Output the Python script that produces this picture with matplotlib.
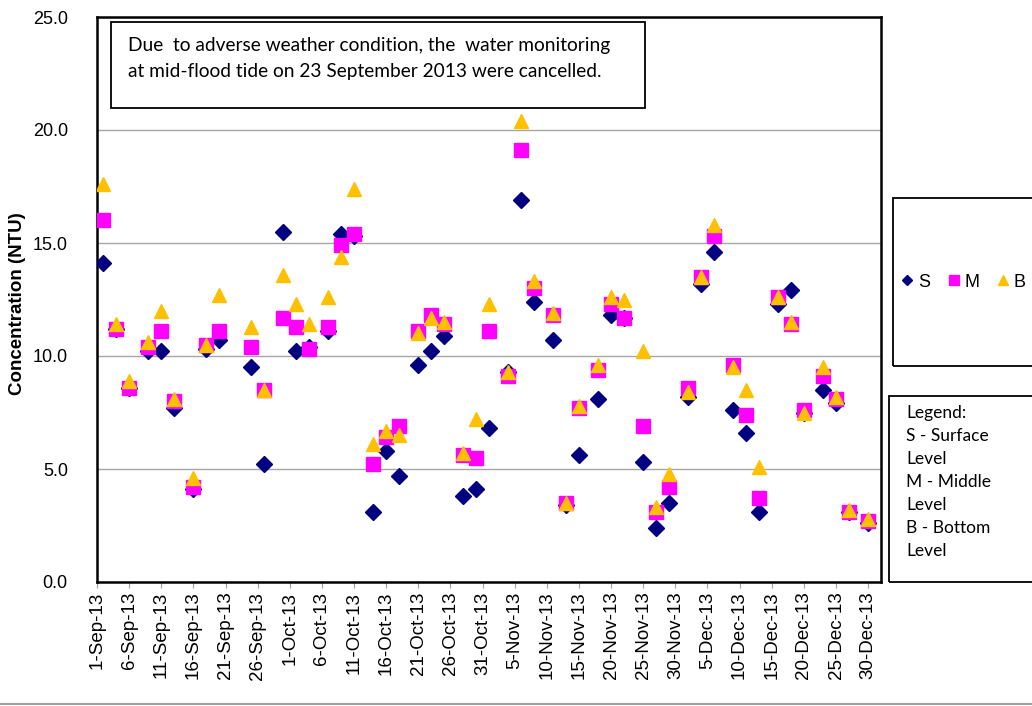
import datetime as dt

import matplotlib.pyplot as plt
from matplotlib.patches import Rectangle
from matplotlib.lines import Line2D

# sampling dates (23 Sep mid-flood cancelled)
dates = ["2013-09-02", "2013-09-04", "2013-09-06", "2013-09-09", "2013-09-11", "2013-09-13",
         "2013-09-16", "2013-09-18", "2013-09-20", "2013-09-25", "2013-09-27", "2013-09-30",
         "2013-10-02", "2013-10-04", "2013-10-07", "2013-10-09", "2013-10-11", "2013-10-14",
         "2013-10-16", "2013-10-18", "2013-10-21", "2013-10-23", "2013-10-25", "2013-10-28",
         "2013-10-30", "2013-11-01", "2013-11-04", "2013-11-06", "2013-11-08", "2013-11-11",
         "2013-11-13", "2013-11-15", "2013-11-18", "2013-11-20", "2013-11-22", "2013-11-25",
         "2013-11-27", "2013-11-29", "2013-12-02", "2013-12-04", "2013-12-06", "2013-12-09",
         "2013-12-11", "2013-12-13", "2013-12-16", "2013-12-18", "2013-12-20", "2013-12-23",
         "2013-12-25", "2013-12-27", "2013-12-30"]

surface = [14.1, 11.2, 8.6, 10.2, 10.2, 7.7, 4.1, 10.3, 10.7, 9.5, 5.2, 15.5,
           10.2, 10.4, 11.1, 15.4, 15.3, 3.1, 5.8, 4.7, 9.6, 10.2, 10.9, 3.8,
           4.1, 6.8, 9.3, 16.9, 12.4, 10.7, 3.4, 5.6, 8.1, 11.8, 11.7, 5.3,
           2.4, 3.5, 8.2, 13.2, 14.6, 7.6, 6.6, 3.1, 12.3, 12.9, 7.5, 8.5,
           7.9, 3.1, 2.6]
middle = [16.0, 11.2, 8.6, 10.4, 11.1, 8.0, 4.2, 10.5, 11.1, 10.4, 8.5, 11.7,
          11.3, 10.3, 11.3, 14.9, 15.4, 5.2, 6.4, 6.9, 11.1, 11.8, 11.4, 5.6,
          5.5, 11.1, 9.1, 19.1, 13.0, 11.8, 3.5, 7.7, 9.4, 12.3, 11.7, 6.9,
          3.1, 4.2, 8.6, 13.5, 15.3, 9.6, 7.4, 3.7, 12.6, 11.4, 7.6, 9.1,
          8.1, 3.1, 2.7]
bottom = [17.6, 11.4, 8.9, 10.6, 12.0, 8.1, 4.6, 10.5, 12.7, 11.3, 8.5, 13.6,
          12.3, 11.4, 12.6, 14.4, 17.4, 6.1, 6.7, 6.5, 11.0, 11.7, 11.5, 5.7,
          7.2, 12.3, 9.3, 20.4, 13.3, 11.9, 3.5, 7.8, 9.6, 12.6, 12.5, 10.2,
          3.3, 4.8, 8.4, 13.5, 15.8, 9.5, 8.5, 5.1, 12.6, 11.5, 7.5, 9.5,
          8.2, 3.2, 2.8]

x = [dt.datetime.strptime(d, "%Y-%m-%d") for d in dates]
ticks = [dt.datetime(2013, 9, 1) + dt.timedelta(days=5 * i) for i in range(25)]

W, H = 1032, 706
fig = plt.figure(figsize=(W / 100, H / 100), dpi=100)


def fx(px):
    return px / W


def fy(py):
    return 1 - py / H


ax = fig.add_axes([fx(97), fy(582), fx(881) - fx(97), fy(17) - fy(582)])

ax.plot(x, surface, linestyle="none", marker="D", ms=8, color="#000080", label="S", zorder=3)
ax.plot(x, middle, linestyle="none", marker="s", ms=9.5, color="#FF00FF", label="M", zorder=4)
ax.plot(x, bottom, linestyle="none", marker="^", ms=10.5, color="#FFC000", label="B", zorder=5)

ax.set_ylim(0, 25)
ax.set_yticks([0, 5, 10, 15, 20, 25])
ax.set_yticklabels(["%.1f" % v for v in [0, 5, 10, 15, 20, 25]], fontsize=13,
                   family="Liberation Sans")
ax.set_xlim(dt.datetime(2013, 9, 1), dt.datetime(2014, 1, 1))
ax.set_xticks(ticks)
ax.set_xticklabels([t.strftime("%-d-%b-%y") for t in ticks], rotation=90, fontsize=13.5,
                   family="Liberation Sans")
ax.tick_params(axis="x", length=4, color="#a0a0a0", pad=3)
ax.tick_params(axis="y", length=0, pad=21)
ax.grid(axis="y", color="#a6a6a6", linewidth=1)
ax.set_axisbelow(True)
for s in ax.spines.values():
    s.set_linewidth(1.8)
    s.set_color("black")

fig.text(fx(18), fy(304), "Concentration (NTU)", rotation=90, ha="center", va="center",
         fontsize=13.5, fontweight="bold", family="Liberation Sans")

# note box
fig.patches.append(Rectangle((fx(111), fy(108)), fx(645) - fx(111), fy(22) - fy(108),
                             transform=fig.transFigure, fill=True, facecolor="white",
                             edgecolor="black", linewidth=1.3, zorder=6))
fig.text(fx(128), fy(45), "Due  to adverse weather condition, the  water monitoring",
         ha="left", va="center", fontsize=13.8, family="Lato", zorder=7)
fig.text(fx(128), fy(72), "at mid-flood tide on 23 September 2013 were cancelled.",
         ha="left", va="center", fontsize=13.8, family="Lato", zorder=7)

# legend boxes
fig.patches.append(Rectangle((fx(893), fy(366)), fx(1040) - fx(893), fy(198) - fy(366),
                             transform=fig.transFigure, fill=False, edgecolor="black",
                             linewidth=1.3))
fig.patches.append(Rectangle((fx(889), fy(582)), fx(1040) - fx(889), fy(396) - fy(582),
                             transform=fig.transFigure, fill=False, edgecolor="black",
                             linewidth=1.3))
fig.legend(loc="center", bbox_to_anchor=(fx(964), fy(282)), ncol=3, frameon=False,
           markerscale=0.7, handlelength=0.6, handletextpad=0.3, columnspacing=1.0,
           prop={"family": "Liberation Sans", "size": 13})
legend_lines = ["Legend:", "S - Surface", "Level", "M - Middle", "Level", "B - Bottom", "Level"]
for i, line in enumerate(legend_lines):
    fig.text(fx(906), fy(413 + 23 * i), line, ha="left", va="center", fontsize=12.5,
             family="Lato")

fig.lines.append(Line2D([0, 1], [fy(704), fy(704)], transform=fig.transFigure,
                        color="#a0a0a0", linewidth=1.5))

fig.savefig("out.png", dpi=100)
